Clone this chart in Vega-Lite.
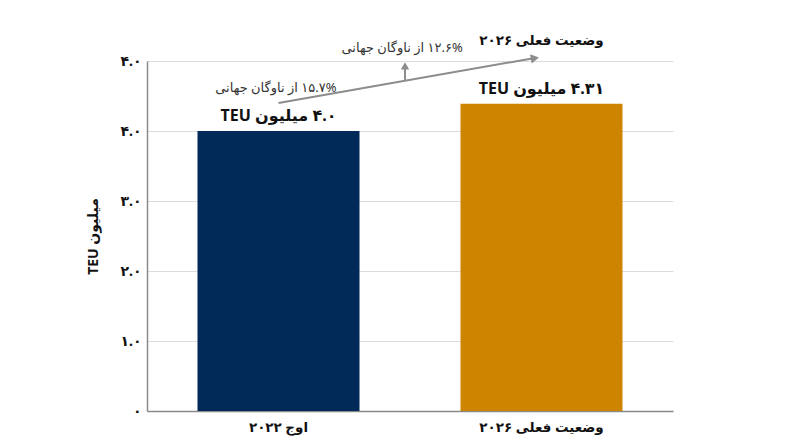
{
  "$schema": "https://vega.github.io/schema/vega-lite/v6.json",
  "autosize": {"type": "none"},
  "padding": {"left": 147, "top": 61, "right": 127, "bottom": 36},
  "width": 526,
  "height": 350,
  "background": "white",
  "config": {
    "font": "Noto Sans, DejaVu Sans",
    "view": {"stroke": null}
  },
  "datasets": {
    "bars": [
      {"cat": "\u202bاوج ۲۰۲۲\u202c", "value": 4.0, "label": "\u202b۴.۰ میلیون TEU\u202c"},
      {"cat": "\u202bوضعیت فعلی ۲۰۲۶\u202c", "value": 4.39, "label": "\u202b۴.۳۱ میلیون TEU\u202c"}
    ],
    "trend": [
      {"ax": 0.5, "ay": 4.4},
      {"ax": 1.47, "ay": 5.04}
    ],
    "notes": [
      {"ax": 0.49, "ay": 4.61, "text": "\u202b۱۵.۷%  از ناوگان جهانی\u202c"},
      {"ax": 0.97, "ay": 5.19, "text": "\u202b۱۲.۶% از ناوگان جهانی\u202c"}
    ]
  },
  "encoding": {
    "y": {
      "field": "value", "type": "quantitative",
      "scale": {"domain": [0, 5], "nice": false},
      "axis": {
        "values": [0, 1, 2, 3, 4, 5],
        "labelExpr": "['۰','۱.۰','۲.۰','۳.۰','۴.۰','۴.۰'][datum.value]",
        "title": "\u202bمیلیون TEU\u202c",
        "titleFontSize": 14, "titleFontWeight": "bold", "titleColor": "#111",
        "titlePadding": 19,
        "labelFontSize": 14, "labelFontWeight": "bold", "labelColor": "#111",
        "labelPadding": 6, "ticks": false,
        "domainColor": "#8a8a8a", "domainWidth": 1.5,
        "gridColor": "#dcdcdc", "gridWidth": 1
      }
    }
  },
  "layer": [
    {
      "data": {"name": "bars"},
      "encoding": {
        "x": {
          "field": "cat", "type": "nominal", "sort": null,
          "scale": {"paddingInner": 0.384, "paddingOuter": 0.192},
          "axis": {
            "title": null, "labelAngle": 0, "labelFontSize": 13.5,
            "labelFontWeight": "bold", "labelColor": "#111",
            "labelPadding": 9, "ticks": false,
            "domainColor": "#8a8a8a", "domainWidth": 1.5
          }
        }
      },
      "layer": [
        {
          "mark": {"type": "bar"},
          "encoding": {
            "color": {
              "field": "cat", "type": "nominal", "sort": null,
              "scale": {"range": ["#012a58", "#cd8500"]},
              "legend": null
            }
          }
        },
        {
          "mark": {"type": "text", "fontSize": 16, "fontWeight": "bold", "color": "#111", "baseline": "middle", "dy": -15},
          "encoding": {"text": {"field": "label"}}
        }
      ]
    },
    {
      "data": {"name": "trend"},
      "mark": {"type": "line", "color": "#8c8c8c", "strokeWidth": 2},
      "encoding": {
        "x": {"field": "ax", "type": "quantitative", "scale": {"domain": [0, 2]}, "axis": null},
        "y": {"field": "ay", "type": "quantitative"}
      }
    },
    {
      "data": {"values": [{"ax": 1.475, "ay": 5.04}]},
      "mark": {"type": "point", "shape": "triangle-right", "filled": true, "color": "#8c8c8c", "size": 90, "angle": 350, "opacity": 1},
      "encoding": {
        "x": {"field": "ax", "type": "quantitative", "scale": {"domain": [0, 2]}, "axis": null},
        "y": {"field": "ay", "type": "quantitative"}
      }
    },
    {
      "data": {"values": [{"ax": 0.981, "ay": 4.73, "ay2": 4.9}]},
      "mark": {"type": "rule", "color": "#8c8c8c", "strokeWidth": 2},
      "encoding": {
        "x": {"field": "ax", "type": "quantitative", "scale": {"domain": [0, 2]}, "axis": null},
        "y": {"field": "ay", "type": "quantitative"},
        "y2": {"field": "ay2"}
      }
    },
    {
      "data": {"values": [{"ax": 0.981, "ay": 4.93}]},
      "mark": {"type": "point", "shape": "triangle-up", "filled": true, "color": "#8c8c8c", "size": 70, "opacity": 1},
      "encoding": {
        "x": {"field": "ax", "type": "quantitative", "scale": {"domain": [0, 2]}, "axis": null},
        "y": {"field": "ay", "type": "quantitative"}
      }
    },
    {
      "data": {"name": "notes"},
      "mark": {"type": "text", "fontSize": 13, "color": "#333", "baseline": "middle"},
      "encoding": {
        "x": {"field": "ax", "type": "quantitative", "scale": {"domain": [0, 2]}, "axis": null},
        "y": {"field": "ay", "type": "quantitative"},
        "text": {"field": "text"}
      }
    },
    {
      "data": {"values": [{"ax": 1.5, "ay": 5.29, "text": "\u202bوضعیت فعلی ۲۰۲۶\u202c"}]},
      "mark": {"type": "text", "fontSize": 13.5, "fontWeight": "bold", "color": "#111", "baseline": "middle"},
      "encoding": {
        "x": {"field": "ax", "type": "quantitative", "scale": {"domain": [0, 2]}, "axis": null},
        "y": {"field": "ay", "type": "quantitative"},
        "text": {"field": "text"}
      }
    }
  ],
  "resolve": {"scale": {"x": "independent", "color": "independent"}, "axis": {"x": "independent"}}
}
